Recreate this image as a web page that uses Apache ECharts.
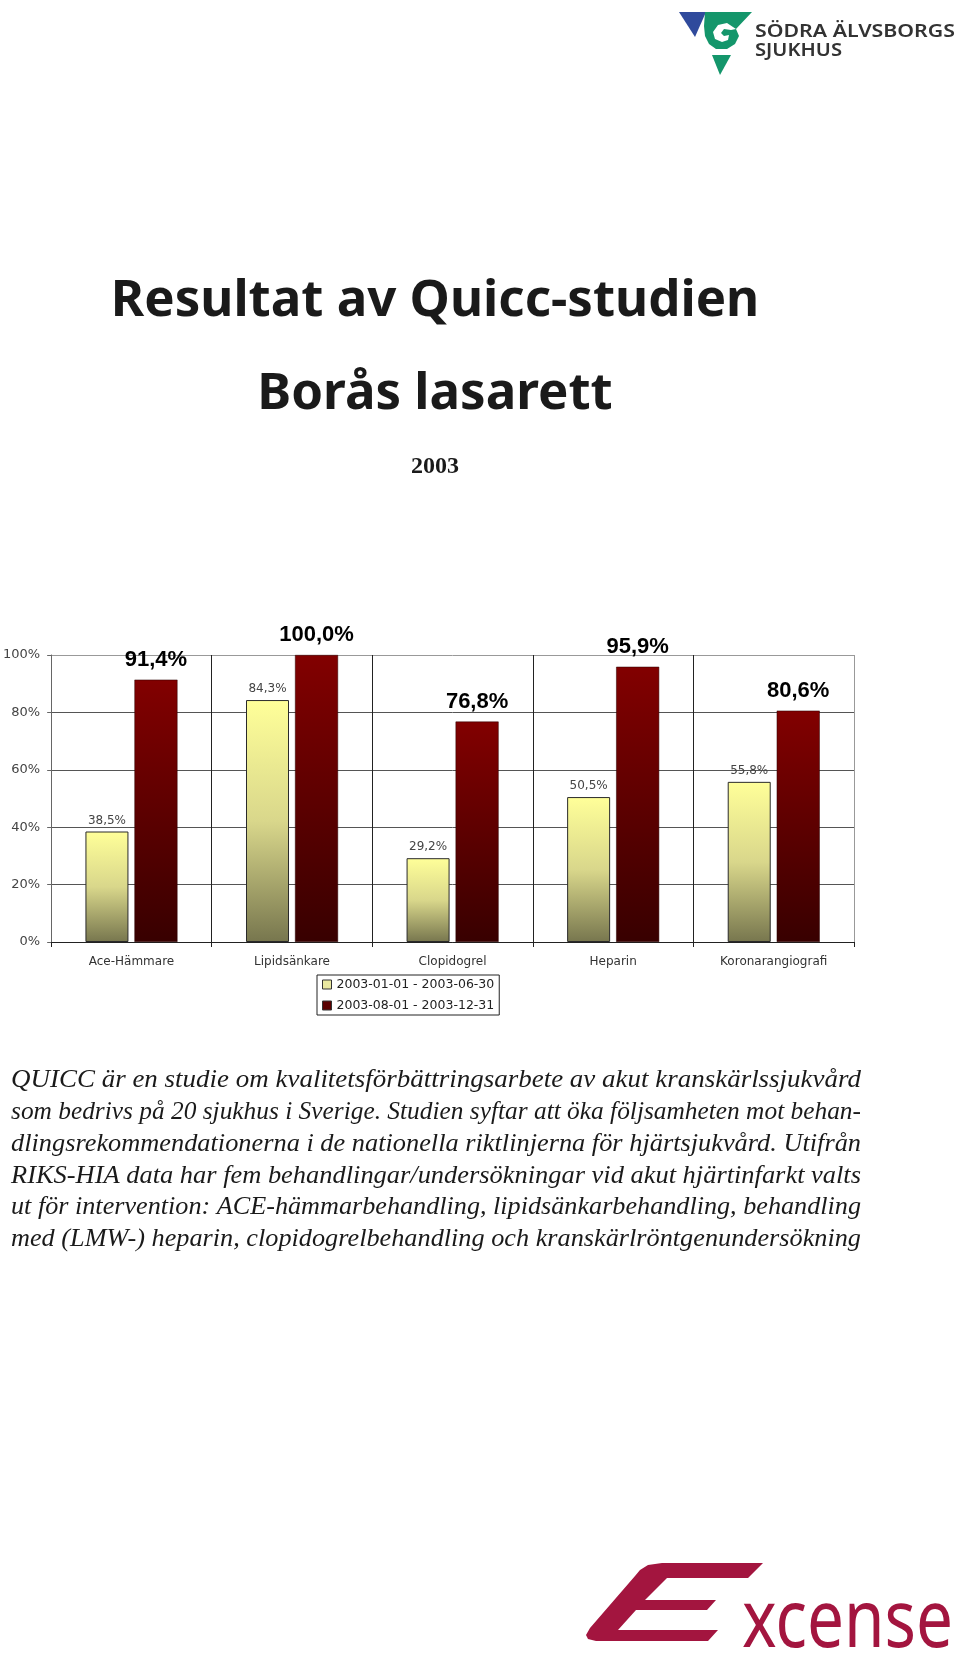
<!DOCTYPE html>
<html><head><meta charset="utf-8">
<script src="https://cdn.jsdelivr.net/npm/echarts@6/dist/echarts.min.js"></script>
<style>html,body{margin:0;padding:0;background:#fff}#c{width:960px;height:1658px}</style>
</head><body><div id="c"></div>
<script>
// ---- data ----
const categories = ['Ace-Hämmare', 'Lipidsänkare', 'Clopidogrel', 'Heparin', 'Koronarangiografi'];
const period1 = [38.5, 84.3, 29.2, 50.5, 55.8];
const period2 = [91.4, 100.0, 76.8, 95.9, 80.6];
const seriesNames = ['2003-01-01 - 2003-06-30', '2003-08-01 - 2003-12-31'];
const yMin = 0, yMax = 100, yStep = 20;
const titleLines = ['Resultat av Quicc-studien', 'Borås lasarett'];
const yearText = '2003';
const paragraphLines = [
  'QUICC är en studie om kvalitetsförbättringsarbete av akut kranskärlssjukvård',
  'som bedrivs på 20 sjukhus i Sverige. Studien syftar att öka följsamheten mot behan-',
  'dlingsrekommendationerna i de nationella riktlinjerna för hjärtsjukvård. Utifrån',
  'RIKS-HIA data har fem behandlingar/undersökningar vid akut hjärtinfarkt valts',
  'ut för intervention: ACE-hämmarbehandling, lipidsänkarbehandling, behandling',
  'med (LMW-) heparin, clopidogrelbehandling och kranskärlröntgenundersökning'
];
const logoLines = ['SÖDRA ÄLVSBORGS', 'SJUKHUS'];
const brandText = 'xcense';

// ---- helpers ----
function fmt(v) { return v.toFixed(1).replace('.', ',') + '%'; }
const mctx = document.createElement('canvas').getContext('2d');
function fitScale(text, font, target) { mctx.font = font; return target / mctx.measureText(text).width; }

const paraFont = 'italic 26px "Liberation Serif"';
const paraEls = paragraphLines.map((t, i) => ({
  type: 'text', x: 11, y: 1080 + i * 31.9,
  scaleX: fitScale(t, paraFont, 850), scaleY: 1,
  style: { text: t, font: paraFont, fill: '#1a1a1a', textAlign: 'left', textVerticalAlign: 'middle' }
}));

const logoFont = '600 18px "Noto Sans"';
const logoEls = logoLines.map((t, i) => ({
  type: 'text', x: 755, y: [32, 51][i],
  scaleX: fitScale(t, logoFont, [200, 87][i]),
  style: { text: t, font: logoFont, fill: '#333', textAlign: 'left', textVerticalAlign: 'middle' }
}));

const brandFont = '80px "Noto Sans"';
const brandEl = {
  type: 'text', x: 742, y: 1624, scaleX: fitScale(brandText, brandFont, 211),
  style: { text: brandText, font: brandFont, fill: '#A3153F', textAlign: 'left', textVerticalAlign: 'middle' }
};

const yellowGrad = new echarts.graphic.LinearGradient(0, 0, 0, 1, [
  { offset: 0, color: '#FFFF99' }, { offset: 0.5, color: '#D9D78B' }, { offset: 1, color: '#77764E' }]);
const redGrad = new echarts.graphic.LinearGradient(0, 0, 0, 1, [
  { offset: 0, color: '#820000' }, { offset: 1, color: '#380000' }]);

const chart = echarts.init(document.getElementById('c'), null, { renderer: 'canvas' });
chart.setOption({
  backgroundColor: '#fff',
  animation: false,
  grid: { left: 50, top: 655, width: 804, height: 287 },
  legend: {
    orient: 'vertical', left: 317, top: 975,
    itemWidth: 9, itemHeight: 9, itemGap: 8,
    padding: [3, 5, 3, 5], borderColor: '#222', borderWidth: 1,
    textStyle: { fontFamily: 'DejaVu Sans', fontSize: 12.5, color: '#222' },
    data: [
      { name: seriesNames[0], icon: 'rect', itemStyle: { color: '#E9E8A0', borderColor: '#333', borderWidth: 1 } },
      { name: seriesNames[1], icon: 'rect', itemStyle: { color: '#5A0000', borderColor: '#333', borderWidth: 1 } }
    ]
  },
  xAxis: {
    type: 'category', data: categories,
    axisLine: { show: true, lineStyle: { color: '#222', width: 1 } },
    axisTick: { show: true, length: 5, alignWithLabel: false, lineStyle: { color: '#222' } },
    splitLine: { show: true, lineStyle: { color: ['#666', '#222', '#222', '#222', '#222', '#999'], width: 1 } },
    axisLabel: { fontFamily: 'DejaVu Sans', fontSize: 12, color: '#333', margin: 14 }
  },
  yAxis: {
    type: 'value', min: yMin, max: yMax, interval: yStep,
    axisLine: { show: true, lineStyle: { color: '#666' } },
    axisTick: { show: true, length: 4, lineStyle: { color: '#666' } },
    splitLine: { show: true, lineStyle: { color: ['#555', '#555', '#555', '#555', '#555', '#999'], width: 1 } },
    axisLabel: { formatter: '{value}%', fontFamily: 'DejaVu Sans', fontSize: 13, color: '#444', margin: 11 }
  },
  series: [
    {
      name: seriesNames[0], type: 'bar', data: period1, barWidth: 43, barGap: '14%',
      itemStyle: { color: yellowGrad, borderColor: '#2a2a2a', borderWidth: 1 },
      label: { show: true, position: 'top', distance: 5, formatter: p => fmt(p.value),
        fontFamily: 'DejaVu Sans', fontSize: 12, color: '#444' }
    },
    {
      name: seriesNames[1], type: 'bar', data: period2, barWidth: 43,
      itemStyle: { color: redGrad, borderColor: '#2a0000', borderWidth: 0.5 },
      label: { show: true, position: 'top', distance: 9, formatter: p => fmt(p.value),
        fontFamily: 'Liberation Sans', fontWeight: 'bold', fontSize: 22, color: '#000' }
    }
  ],
  graphic: [
    // header logo
    { type: 'polygon', shape: { points: [[679, 12], [706, 12], [695, 37]] }, style: { fill: '#2F4A9C' } },
    { type: 'polygon', shape: { points: [[705, 12], [752, 12], [736, 29], [739, 36], [735, 44], [727, 49], [716, 49], [709, 44], [705, 36], [704, 26]] }, style: { fill: '#14966B' } },
    { type: 'polygon', shape: { points: [[736, 29], [727, 23], [718, 25], [713, 32], [715, 39], [722, 42], [728, 40], [729, 35], [724, 36], [721, 33], [724, 29], [731, 30]] }, style: { fill: '#fff' } },
    { type: 'polygon', shape: { points: [[712, 55], [731, 55], [720, 75]] }, style: { fill: '#14966B' } },
    ...logoEls,
    // titles
    { type: 'text', x: 435, y: 301, style: { text: titleLines[0], font: 'bold 51px "Noto Sans"', fill: '#1a1a1a', textAlign: 'center', textVerticalAlign: 'middle' } },
    { type: 'text', x: 435, y: 394, style: { text: titleLines[1], font: 'bold 51px "Noto Sans"', fill: '#1a1a1a', textAlign: 'center', textVerticalAlign: 'middle' } },
    { type: 'text', x: 435, y: 467, style: { text: yearText, font: 'bold 24px "Liberation Serif"', fill: '#1a1a1a', textAlign: 'center', textVerticalAlign: 'middle' } },
    ...paraEls,
    // footer logo
    { type: 'polygon', shape: { points: [[763, 1563], [662, 1563], [648, 1565], [640, 1570], [635, 1576], [590, 1628], [586, 1635], [588, 1639], [596, 1641], [708, 1641], [718, 1630], [618, 1630], [636, 1610], [707, 1610], [716, 1600], [645, 1600], [667, 1578], [748, 1578]] }, style: { fill: '#A3153F' } },
    brandEl
  ]
});
</script></body></html>
